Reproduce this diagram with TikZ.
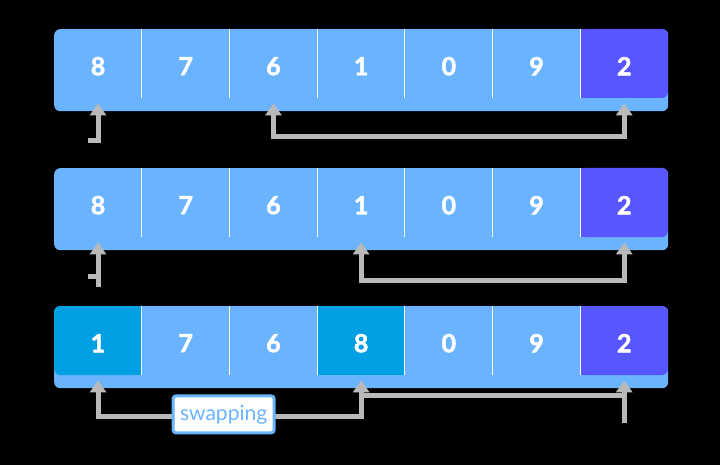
\documentclass[tikz,border=0pt]{standalone}
\usepackage{fontspec}
\setmainfont{Lato}[BoldFont={Lato Bold}, BoldFeatures={FakeBold=2}]
\usetikzlibrary{arrows.meta, positioning, calc}
\definecolor{cellblue}{RGB}{106,180,255}
\definecolor{minblue}{RGB}{88,86,255}
\definecolor{swapblue}{RGB}{0,160,226}
\definecolor{linegrey}{RGB}{185,185,185}
\tikzset{
    rowbox/.style={fill=cellblue, rounded corners=6pt, minimum width=614pt, minimum height=82pt, inner sep=0pt, anchor=north west},
    cell/.style={minimum width=87.7pt, minimum height=74pt, inner sep=0pt, text=white, font=\fontsize{25}{30}\selectfont\bfseries, anchor=north west},
    divider/.style={white, line width=1.2pt},
    conn/.style={linegrey, line width=5pt},
    tip/.style={-{Triangle[width=16pt,length=12pt]}},
    bothtips/.style={{Triangle[width=16pt,length=12pt]}-{Triangle[width=16pt,length=12pt]}},
    swaplabel/.style={draw=cellblue, line width=3pt, fill=white, rounded corners=3pt, text=cellblue, font=\fontsize{21}{24}\selectfont, inner xsep=7pt, inner ysep=0pt, minimum height=37pt}
}
\begin{document}
\begin{tikzpicture}[x=1pt, y=-1pt]
    \def \W {87.7}
    \def \X {54}
    \fill[black] (0,0) rectangle (720,465);
    \useasboundingbox (0,0) rectangle (720,465);
    % first row
    \node[rowbox] (rowa) at (\X,29) {};
    \fill[minblue, rounded corners=6pt] ({\X+6*\W},29) rectangle ({\X+7*\W},98);
    \fill[minblue] ({\X+6*\W},29) rectangle ({\X+6.5*\W},98);
    \foreach \i in {1,...,6} \draw[divider] ({\X+\i*\W},29) -- ++(0,69);
    \foreach \v [count=\i] in {8,7,6,1,0,9,2}
        \node[cell] (a\i) at ({\X+(\i-1)*\W},29) {\v};
    \draw[conn, tip] ([xshift=-10pt, yshift=-37pt]a1.south) -| (a1.south);
    \draw[conn, bothtips] (a3.south) -- ++(0,33) -| (a7.south);
    % second row
    \node[rowbox] (rowb) at (\X,168) {};
    \fill[minblue, rounded corners=6pt] ({\X+6*\W},168) rectangle ({\X+7*\W},237);
    \fill[minblue] ({\X+6*\W},168) rectangle ({\X+6.5*\W},237);
    \foreach \i in {1,...,6} \draw[divider] ({\X+\i*\W},168) -- ++(0,69);
    \foreach \v [count=\i] in {8,7,6,1,0,9,2}
        \node[cell] (b\i) at ({\X+(\i-1)*\W},168) {\v};
    \draw[conn] ([xshift=-10pt, yshift=-34pt]b1.south) -- ++(10,0);
    \draw[conn, tip] ([yshift=-45pt]b1.south) -- (b1.south);
    \draw[conn, bothtips] (b4.south) -- ++(0,38) -| (b7.south);
    % third row
    \node[rowbox] (rowc) at (\X,306) {};
    \fill[swapblue, rounded corners=6pt] (\X,306) rectangle ({\X+\W},375);
    \fill[swapblue] ({\X+0.5*\W},306) rectangle ({\X+\W},375);
    \fill[swapblue] ({\X+3*\W},306) rectangle ({\X+4*\W},375);
    \fill[minblue, rounded corners=6pt] ({\X+6*\W},306) rectangle ({\X+7*\W},375);
    \fill[minblue] ({\X+6*\W},306) rectangle ({\X+6.5*\W},375);
    \foreach \i in {1,...,6} \draw[divider] ({\X+\i*\W},306) -- ++(0,69);
    \foreach \v [count=\i] in {1,7,6,8,0,9,2}
        \node[cell] (c\i) at ({\X+(\i-1)*\W},306) {\v};
    \draw[conn, bothtips] (c1.south) -- ++(0,36) -| (c4.south);
    \draw[conn] ([yshift=-15pt]c4.south) -- ([yshift=-15pt]c7.south);
    \draw[conn, tip] ([yshift=-43pt]c7.south) -- (c7.south);
    \node[swaplabel] (swap) at ($($(c1.south)!0.5!(c4.south)$)+(-6,34)$) {swapping};
\end{tikzpicture}
\end{document}
